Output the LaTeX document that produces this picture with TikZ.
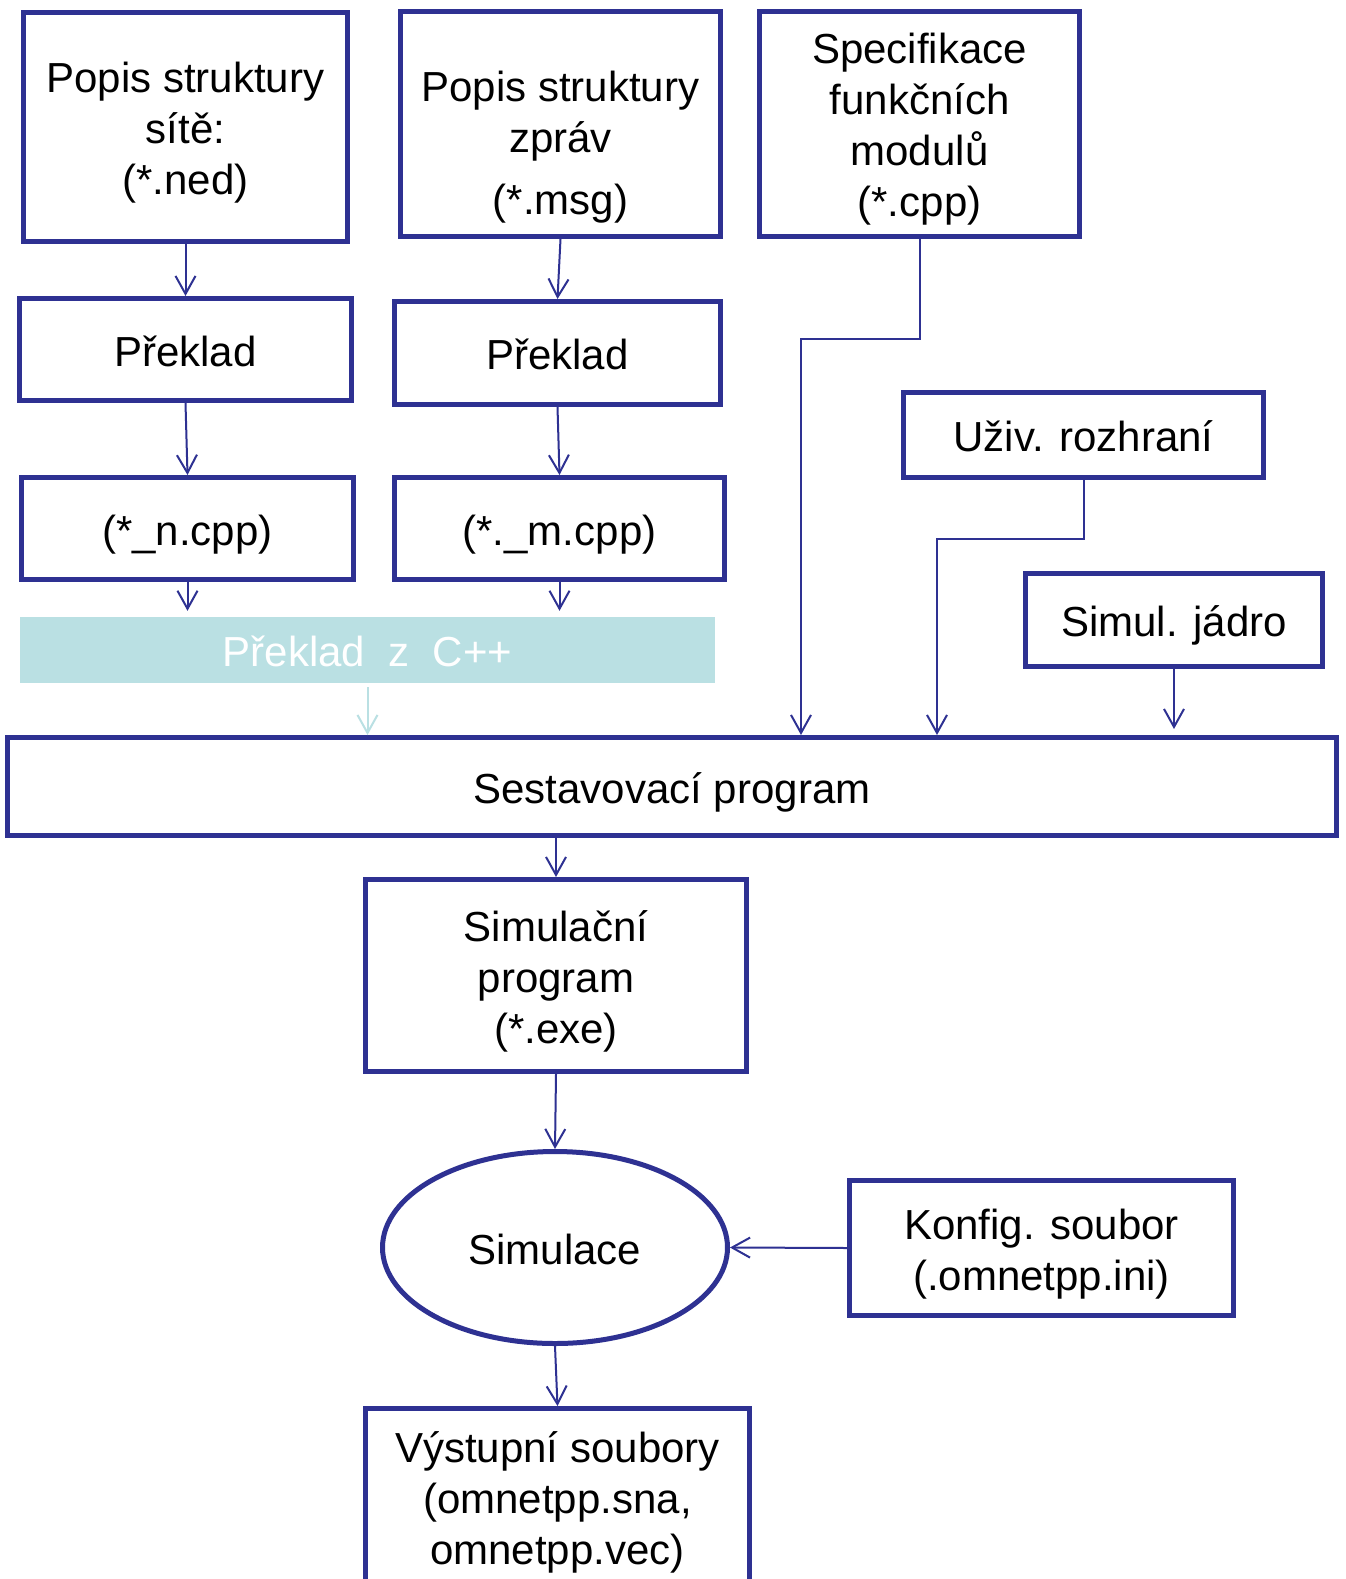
\documentclass[tikz,border=0pt]{standalone}
\usepackage{fontspec}
\setmainfont{Liberation Sans}
\usetikzlibrary{arrows.meta,shapes.geometric}
\definecolor{navy}{RGB}{46,49,146}
\definecolor{lcyan}{RGB}{186,224,227}
\tikzset{
  box/.style={draw=navy, line width=5pt, rectangle, inner sep=0pt, align=center,
    font=\fontsize{42}{51}\selectfont, text=black, text height=33pt, text depth=0pt},
  txt/.style={inner sep=0pt, align=center, font=\fontsize{42}{51}\selectfont, text=black},
  cyanbox/.style={fill=lcyan, inner sep=0pt, align=center, font=\fontsize{42}{51}\selectfont,
    text=white, text height=33pt, text depth=0pt},
  oval/.style={ellipse, draw=navy, line width=5pt, inner sep=0pt, align=center,
    font=\fontsize{42}{51}\selectfont, text=black, text height=33pt, text depth=0pt},
  arr/.style={draw=navy, line width=2pt, -{Straight Barb[length=18pt,width=20pt]}},
  arrc/.style={draw=lcyan, line width=2pt, -{Straight Barb[length=18pt,width=20pt]}}
}
\begin{document}
\begin{tikzpicture}[x=1pt,y=-1pt]
\useasboundingbox (0,0) rectangle (1346,1579);
\fill[white] (0,0) rectangle (1346,1579);
\clip (0,0) rectangle (1346,1579);

% top row
\node[box, minimum width=324pt, minimum height=229pt] (b1) at (185.5,127) {};
\node[txt, yshift=-6pt] (t1) at (b1.center) {Popis struktury\\sítě:\\(*.ned)};
\node[box, minimum width=320pt, minimum height=225pt] (b2) at (560.5,124) {};
\node[txt] (t2) at (560.5,147) {Popis struktury\\zpráv\\[11pt](*.msg)};
\node[box, minimum width=320pt, minimum height=225pt] (b3) at (919.5,124) {};
\node[txt, yshift=-5pt] (t3) at (b3.center) {Specifikace\\funkčních\\modulů\\(*.cpp)};

% translation row
\node[box, minimum width=332pt, minimum height=102pt] (p1) at (185.5,349.5) {Překlad};
\node[box, minimum width=326pt, minimum height=103pt] (p2) at (557.5,353) {Překlad};

% cpp row
\node[box, minimum width=332pt, minimum height=102pt] (n) at (187.5,528.5) {(*\_n.cpp)};
\node[box, minimum width=330pt, minimum height=102pt] (m) at (559.5,528.5) {(*.\_m.cpp)};

% cyan box
\node[cyanbox, minimum width=695pt, minimum height=66pt] (cy) at (367.5,650) {Překlad\ \ z\ \ C++};

% right side
\node[box, minimum width=360pt, minimum height=85pt] (u) at (1083.5,435) {Uživ. rozhraní};
\node[box, minimum width=297pt, minimum height=93pt] (j) at (1174,620) {Simul. jádro};

% linker
\node[box, minimum width=1329pt, minimum height=98pt] (s) at (672,786.5) {Sestavovací program};

% executable
\node[box, minimum width=381pt, minimum height=192pt] (e) at (556,975.5) {};
\node[txt, yshift=-6pt] (te) at (e.center) {Simulační\\program\\(*.exe)};

% simulation
\node[oval, minimum width=345pt, minimum height=192pt] (sim) at (555,1247.5) {Simulace};
\node[box, minimum width=384pt, minimum height=135pt] (k) at (1041.5,1248) {};
\node[txt, yshift=-6pt] (tk) at (k.center) {Konfig. soubor\\(.omnetpp.ini)};

% output
\node[box, minimum width=384pt, minimum height=300pt] (v) at (557.5,1558.5) {};
\node[txt] (tv) at (557.5,1502) {Výstupní soubory\\(omnetpp.sna,\\omnetpp.vec)};

% connectors
\draw[arr] (b1.south) -- (p1.north);
\draw[arr] (b2.south) -- (p2.north);
\draw[arr] (p1.south) -- (n.north);
\draw[arr] (p2.south) -- (m.north);
\draw[arr, shorten >=6pt] (n.south) -- (n.south |- cy.north);
\draw[arr, shorten >=6pt] (m.south) -- (m.south |- cy.north);
\draw[arrc, shorten <=4pt] (cy.south) -- (cy.south |- s.north);

\coordinate (k1) at (801,339);
\draw[arr] (b3.south) |- (k1) -- (k1 |- s.north);
\coordinate (k2) at (937,539);
\draw[arr] (u.south) |- (k2) -- (k2 |- s.north);
\draw[arr, shorten >=6pt] (j.south) -- (j.south |- s.north);

\draw[arr] (s.south -| e.north) -- (e.north);
\draw[arr] (e.south) -- (sim.north);
\draw[arr] (k.west) -- (sim.east);
\draw[arr] (sim.south) -- (v.north);
\end{tikzpicture}
\end{document}
